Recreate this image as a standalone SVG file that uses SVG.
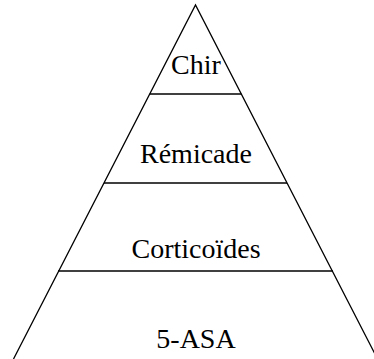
<svg xmlns="http://www.w3.org/2000/svg" width="374" height="359" viewBox="0 0 374 359">
<style>
.edge{stroke:#000;stroke-width:1.3;fill:none}
.lbl{font-family:"Liberation Serif","Times New Roman",serif;font-size:28px;fill:#000;text-anchor:middle}
</style>
<rect width="374" height="359" fill="#fff"/>
<g id="connectors">
<polyline class="edge" points="13.5,359 195.5,5 377.5,359"/>
<line class="edge" x1="149.7" y1="94" x2="241.3" y2="94"/>
<line class="edge" x1="104" y1="183" x2="287" y2="183"/>
<line class="edge" x1="58" y1="271" x2="333" y2="271"/>
</g>
<g id="chir"><text class="lbl" x="196" y="74">Chir</text></g>
<g id="remicade"><text class="lbl" x="196" y="163">Rémicade</text></g>
<g id="corticoides"><text class="lbl" x="196" y="258">Corticoïdes</text></g>
<g id="asa"><text class="lbl" x="196" y="348">5-ASA</text></g>
</svg>
